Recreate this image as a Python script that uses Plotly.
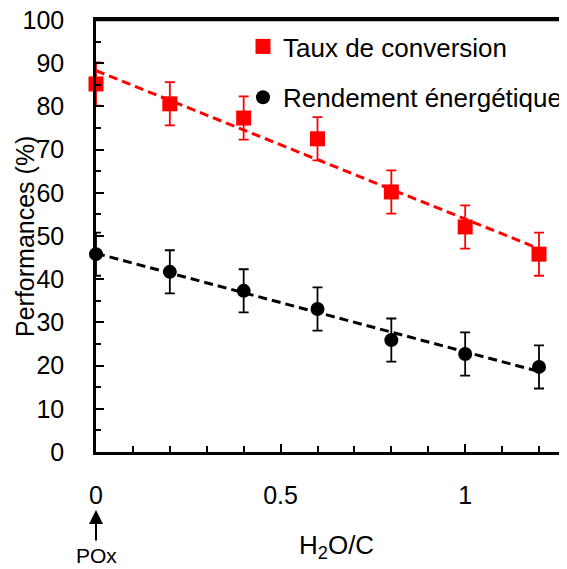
import numpy as np
import plotly.graph_objects as go

h2o_c = [0, 0.2, 0.4, 0.6, 0.8, 1.0, 1.2]
taux_conversion = [85.2, 80.6, 77.3, 72.5, 60.2, 52.1, 45.8]
taux_err = [5, 5, 5, 5, 5, 5, 5]
rendement = [45.8, 41.7, 37.3, 33.1, 25.9, 22.7, 19.7]
rend_err = [5, 5, 5, 5, 5, 5, 5]
y_ticks = list(range(0, 101, 10))
x_ticks = [0, 0.5, 1]
x_tick_labels = ["0", "0.5", "1"]

FONT = "Liberation Sans, Arial, sans-serif"
OFF = 8  # default page body margin
PAGE_W, PAGE_H = 567, 569
W, H = PAGE_W - OFF, PAGE_H - OFF
# plot area in page pixels
PL, PT, PR, PB = 96, 20, 567, 452
L, T = PL - OFF, PT - OFF
R = W - (PR - OFF)
B = H - (PB - OFF)
PW, PH = PR - PL, PB - PT
x_max = 1.2 * PW / (539 - 96)

def px_x(px):
    return (px - PL) / PW

def px_y(py):
    return (PB - py) / PH

fig = go.Figure()

# trend lines (linear fits)
xs = np.array([0.0, 1.2])
for ys, col in [(taux_conversion, "#ff0000"), (rendement, "#000000")]:
    p = np.polyfit(h2o_c, ys, 1)
    fig.add_trace(go.Scatter(x=xs, y=np.polyval(p, xs), mode="lines",
                             line=dict(color=col, width=3, dash="9px,5px"),
                             showlegend=False, hoverinfo="skip", cliponaxis=False))

fig.add_trace(go.Scatter(
    x=h2o_c, y=taux_conversion, mode="markers", name="Taux de conversion",
    legendgroup="a",
    marker=dict(symbol="square", size=15, color="#ff0000"),
    error_y=dict(type="data", array=taux_err, color="#ff0000", thickness=1.8, width=5),
    cliponaxis=False))
fig.add_trace(go.Scatter(
    x=h2o_c, y=rendement, mode="markers", name="Rendement énergétique",
    legendgroup="b",
    marker=dict(symbol="circle", size=14, color="#000000"),
    error_y=dict(type="data", array=rend_err, color="#000000", thickness=1.8, width=5),
    cliponaxis=False))

fig.update_layout(
    width=W, height=H,
    margin=dict(l=L, r=R, t=T, b=B, autoexpand=False),
    plot_bgcolor="white", paper_bgcolor="white",
    font=dict(family=FONT, size=25, color="black"),
    showlegend=True,
    legend=dict(x=px_x(243), y=px_y(23), xanchor="left", yanchor="top",
                bgcolor="rgba(0,0,0,0)", font=dict(size=26, family=FONT),
                tracegroupgap=14, itemwidth=30),
    xaxis=dict(range=[0, x_max], tickvals=x_ticks, ticktext=x_tick_labels,
               ticks="inside", ticklen=8, tickwidth=2, tickcolor="black",
               minor=dict(dtick=0.1, ticks="inside", ticklen=6, tickwidth=2, tickcolor="black"),
               showline=True, linecolor="black", linewidth=2.5, mirror=True,
               showgrid=False, zeroline=False, ticklabelstandoff=19, automargin=False,
               ticklabeloverflow="allow",
               tickfont=dict(size=25, family=FONT)),
    yaxis=dict(range=[0, 100], tickvals=y_ticks,
               ticks="inside", ticklen=8, tickwidth=2, tickcolor="black",
               minor=dict(dtick=5, ticks="inside", ticklen=5, tickwidth=2, tickcolor="black"),
               showline=True, linecolor="black", linewidth=2.5,
               showgrid=False, zeroline=False, ticklabelstandoff=24, automargin=False,
               ticklabeloverflow="allow",
               tickfont=dict(size=25, family=FONT)),
)

# top frame line
fig.add_shape(type="line", xref="paper", yref="paper", x0=0, x1=1, y0=1, y1=1,
              line=dict(color="black", width=2.5), layer="above")

# axis titles
fig.add_annotation(x=px_x(25), y=px_y(237), xref="paper", yref="paper",
                   xanchor="center", yanchor="middle",
                   text="Performances (%)", textangle=-90, showarrow=False,
                   font=dict(size=25, family=FONT))
fig.add_annotation(x=px_x(336), y=px_y(546), xref="paper", yref="paper",
                   xanchor="center", yanchor="middle",
                   text="H<sub>2</sub>O/C", showarrow=False,
                   font=dict(size=26, family=FONT))

# arrow pointing to x=0
fig.add_annotation(x=0, xref="x", y=px_y(510), yref="paper",
                   text="", showarrow=True, arrowhead=2, arrowsize=1.4, arrowwidth=2,
                   arrowcolor="black", ax=0, ay=32)
fig.add_annotation(x=0, xref="x", y=px_y(555), yref="paper",
                   xanchor="center", yanchor="middle",
                   text="POx", showarrow=False, font=dict(size=21, family=FONT))

fig.write_html("out.html")
